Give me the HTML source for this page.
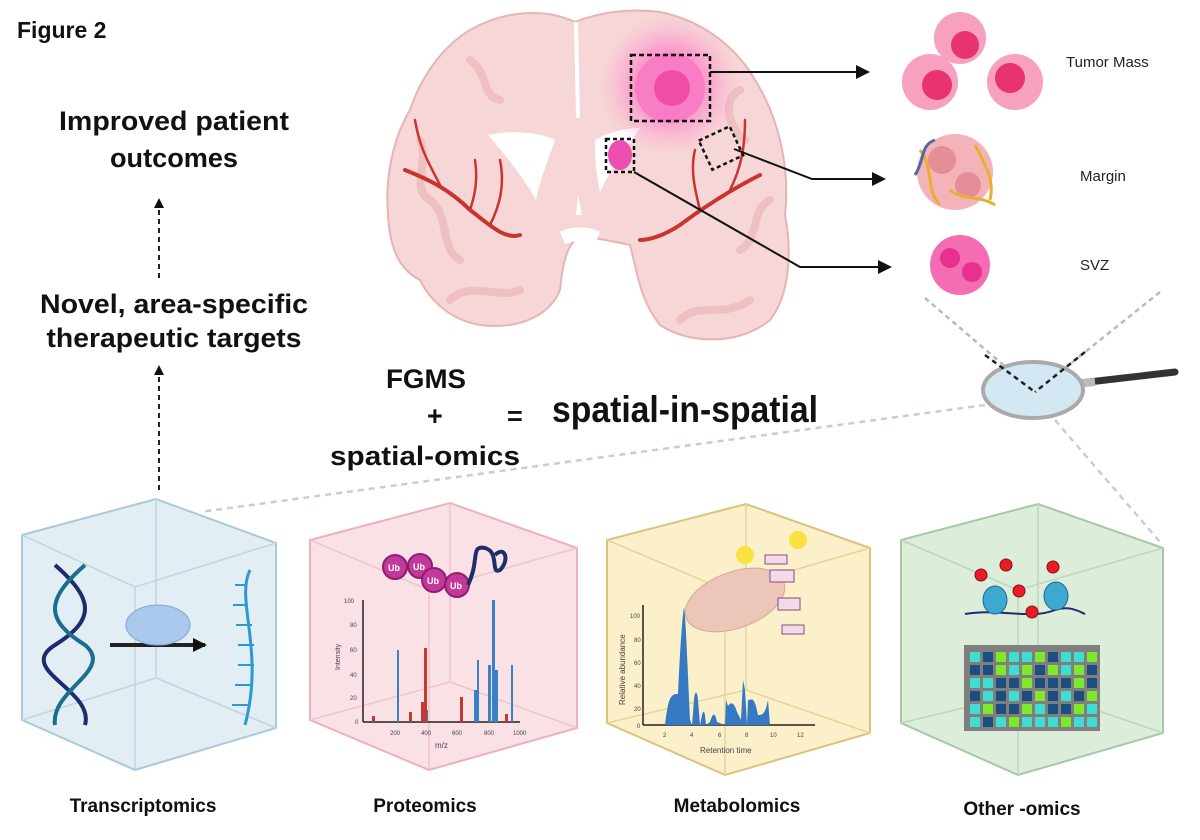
<!DOCTYPE html>
<html><head><meta charset="utf-8"><style>
html,body{margin:0;padding:0;background:#fff;}
svg{display:block;font-family:"Liberation Sans",sans-serif;}
.b{font-weight:bold;fill:#111;}
</style></head><body>
<svg width="1200" height="840" viewBox="0 0 1200 840" xmlns="http://www.w3.org/2000/svg">
<defs>
<radialGradient id="glow" cx="0.5" cy="0.5" r="0.5">
<stop offset="0" stop-color="#ff3fb0" stop-opacity="0.9"/>
<stop offset="0.55" stop-color="#ff6ec4" stop-opacity="0.5"/>
<stop offset="1" stop-color="#ff9ad6" stop-opacity="0"/>
</radialGradient>
<marker id="ah" markerWidth="10" markerHeight="10" refX="8" refY="5" orient="auto" markerUnits="userSpaceOnUse"><path d="M0,0 L10,5 L0,10 z" fill="#111"/></marker>
<marker id="ah2" markerWidth="14" markerHeight="14" refX="12" refY="7" orient="auto" markerUnits="userSpaceOnUse"><path d="M0,0 L14,7 L0,14 z" fill="#111"/></marker>
</defs>

<text x="17" y="38" class="b" font-size="23">Figure 2</text>
<text x="174" y="130" class="b" font-size="27" text-anchor="middle" textLength="230" lengthAdjust="spacingAndGlyphs">Improved patient</text>
<text x="174" y="167" class="b" font-size="27" text-anchor="middle" textLength="128" lengthAdjust="spacingAndGlyphs">outcomes</text>
<text x="174" y="313" class="b" font-size="27" text-anchor="middle" textLength="268" lengthAdjust="spacingAndGlyphs">Novel, area-specific</text>
<text x="174" y="347" class="b" font-size="27" text-anchor="middle" textLength="255" lengthAdjust="spacingAndGlyphs">therapeutic targets</text>
<line x1="159" y1="278" x2="159" y2="200" stroke="#222" stroke-width="2" stroke-dasharray="5,4" marker-end="url(#ah)"/>
<line x1="159" y1="490" x2="159" y2="367" stroke="#222" stroke-width="2" stroke-dasharray="5,4" marker-end="url(#ah)"/>

<text x="386" y="388" class="b" font-size="27" textLength="80" lengthAdjust="spacingAndGlyphs">FGMS</text>
<text x="427" y="425" class="b" font-size="27">+</text>
<text x="507" y="425" class="b" font-size="27">=</text>
<text x="552" y="422" class="b" font-size="37" textLength="266" lengthAdjust="spacingAndGlyphs">spatial-in-spatial</text>
<text x="330" y="465" class="b" font-size="27" textLength="190" lengthAdjust="spacingAndGlyphs">spatial-omics</text>

<line x1="985" y1="405" x2="200" y2="512" stroke="#c6ccd8" stroke-width="2.5" stroke-dasharray="6,5"/>
<line x1="1055" y1="420" x2="1160" y2="542" stroke="#c6ccd8" stroke-width="2.5" stroke-dasharray="6,5"/>

<g>
<path d="M575,22 C545,8 505,10 470,30 C440,48 420,80 410,110 C392,140 385,180 388,215 C390,250 400,270 420,280 C430,300 450,320 480,325 C520,330 550,315 560,290 C562,270 565,250 575,240 C590,235 605,240 630,245 C638,275 640,300 660,325 C690,345 740,345 770,320 C790,295 792,250 785,215 C790,170 780,120 755,80 C735,45 700,20 660,12 C630,8 600,12 575,22 Z" fill="#f6d6d6" stroke="#e6b4b6" stroke-width="2"/>
<path d="M420,140 C430,160 410,190 430,200 C450,215 440,250 460,260 M470,60 C490,75 480,95 500,100 M740,90 C720,100 730,130 745,140 M770,200 C750,210 760,240 740,250 M450,300 C470,280 500,300 520,290 M680,320 C700,300 720,320 750,300" fill="none" stroke="#eec0c2" stroke-width="8" stroke-linecap="round"/>
<path d="M576,22 L578,118" stroke="#fff" stroke-width="4"/>
<path d="M488,135 C510,130 540,132 555,140 C548,160 540,180 536,200 C528,185 510,160 488,135 Z" fill="#fff"/>
<path d="M595,140 C610,132 625,128 640,128 C625,150 610,170 600,192 C596,175 595,160 595,140 Z" fill="#fff"/>
<path d="M578,195 L582,215 L576,215 Z" fill="#fff"/>
<path d="M560,232 C570,226 590,226 600,232 L595,244 C585,240 575,240 565,244 Z" fill="#fff"/>
<g fill="none" stroke="#c9342f" stroke-linecap="round">
<path d="M405,170 C430,180 450,190 470,210 C490,225 505,240 520,235" stroke-width="4"/>
<path d="M470,210 C475,195 478,180 475,160 M440,185 C430,165 420,150 415,120 M490,225 C500,205 505,185 500,160 M700,210 C695,190 690,170 695,150 M730,190 C740,170 745,150 745,120" stroke-width="2.5"/>
<path d="M760,175 C730,190 700,210 680,225 C665,235 650,240 640,240" stroke-width="4"/>
</g>
<circle cx="670" cy="85" r="70" fill="url(#glow)"/>
<circle cx="670" cy="88" r="35" fill="#f87dc5"/>
<circle cx="672" cy="88" r="18" fill="#ef4fa6"/>
<rect x="631" y="55" width="79" height="66" fill="none" stroke="#111" stroke-width="2.5" stroke-dasharray="5,3"/>
<ellipse cx="620" cy="155" rx="12" ry="15" fill="#ec4fb0"/>
<rect x="606" y="139" width="28" height="33" fill="none" stroke="#111" stroke-width="2.5" stroke-dasharray="4,3"/>
<rect x="704" y="132" width="34" height="32" fill="none" stroke="#111" stroke-width="2.5" stroke-dasharray="4,3" transform="rotate(-25 721 148)"/>
</g>
<path d="M710,72 L868,72" stroke="#111" stroke-width="2" fill="none" marker-end="url(#ah2)"/>
<path d="M734,149 L812,179 L884,179" stroke="#111" stroke-width="2" fill="none" marker-end="url(#ah2)"/>
<path d="M634,172 L800,267 L890,267" stroke="#111" stroke-width="2" fill="none" marker-end="url(#ah2)"/>

<g>
<circle cx="960" cy="38" r="26" fill="#f7a0c0"/><circle cx="965" cy="45" r="14" fill="#e8336f"/>
<circle cx="930" cy="82" r="28" fill="#f7a0c0"/><circle cx="937" cy="85" r="15" fill="#e8336f"/>
<circle cx="1015" cy="82" r="28" fill="#f7a0c0"/><circle cx="1010" cy="78" r="15" fill="#e8336f"/>
<circle cx="955" cy="172" r="38" fill="#f4b3b8"/>
<circle cx="942" cy="160" r="14" fill="#e48f98"/><circle cx="968" cy="185" r="13" fill="#e48f98"/>
<path d="M920,150 C935,170 925,190 940,205 M975,145 C985,165 995,180 990,200 M950,190 C960,200 980,195 995,205" stroke="#e8b030" stroke-width="3" fill="none"/>
<path d="M915,175 C925,160 920,145 935,140" stroke="#5566aa" stroke-width="3" fill="none"/>
<circle cx="960" cy="265" r="30" fill="#f46cb2"/>
<circle cx="950" cy="258" r="10" fill="#e8308e"/><circle cx="972" cy="272" r="10" fill="#e8308e"/>
</g>
<text x="1066" y="67" font-size="15" fill="#222">Tumor Mass</text>
<text x="1080" y="181" font-size="15" fill="#222">Margin</text>
<text x="1080" y="270" font-size="15" fill="#222">SVZ</text>

<line x1="925" y1="298" x2="1035" y2="392" stroke="#bbb" stroke-width="2.5" stroke-dasharray="5,4"/>
<line x1="1160" y1="292" x2="1035" y2="392" stroke="#bbb" stroke-width="2.5" stroke-dasharray="5,4"/>
<line x1="1080" y1="383" x2="1175" y2="372" stroke="#333" stroke-width="7" stroke-linecap="round"/>
<line x1="1075" y1="384" x2="1095" y2="382" stroke="#bbb" stroke-width="8"/>
<ellipse cx="1033" cy="390" rx="50" ry="28" fill="#d4e8f4" stroke="#aaa" stroke-width="4"/>
<line x1="985" y1="355" x2="1035" y2="392" stroke="#222" stroke-width="2.5" stroke-dasharray="5,4"/>
<line x1="1085" y1="352" x2="1035" y2="392" stroke="#222" stroke-width="2.5" stroke-dasharray="5,4"/>

<g stroke-width="2">
<path d="M22,535 L156,499 L276,543 L276,728 L135,770 L22,720 Z" fill="#e2edf4" stroke="#a9cad9"/>
<path d="M22,535 L135,587 L276,543 M135,587 L135,770 M156,499 L156,678 L22,720 M156,678 L276,728" fill="none" stroke="#bcd7e3" stroke-width="1.5"/>
<path d="M310,540 L450,503 L577,548 L577,728 L429,770 L310,720 Z" fill="#fae1e6" stroke="#eeb0bc"/>
<path d="M310,540 L429,590 L577,548 M429,590 L429,770 M450,503 L450,682 L310,720 M450,682 L577,728" fill="none" stroke="#f1c3cc" stroke-width="1.5"/>
<path d="M607,540 L746,504 L870,548 L870,733 L725,775 L607,723 Z" fill="#fbf0c9" stroke="#dcc27a"/>
<path d="M607,540 L725,590 L870,548 M725,590 L725,775 M746,504 L746,690 L607,723 M746,690 L870,733" fill="none" stroke="#e6d49a" stroke-width="1.5"/>
<path d="M901,540 L1038,504 L1163,548 L1163,733 L1018,775 L901,723 Z" fill="#dcedda" stroke="#a6c7a8"/>
<path d="M901,540 L1018,590 L1163,548 M1018,590 L1018,775 M1038,504 L1038,690 L901,723 M1038,690 L1163,733" fill="none" stroke="#bcd7bc" stroke-width="1.5"/>
</g>

<g fill="none" stroke-width="4">
<path d="M55,565 C95,600 95,620 55,645 C15,670 95,690 85,725" stroke="#1d2a6e"/>
<path d="M85,565 C45,600 45,620 85,645 C115,670 50,690 55,725" stroke="#1a6f8e"/>
</g>
<line x1="110" y1="645" x2="205" y2="645" stroke="#222" stroke-width="4" marker-end="url(#ah2)"/>
<ellipse cx="158" cy="625" rx="32" ry="20" fill="#a9c8ec" stroke="#7fa8d6"/>
<path d="M250,570 C235,600 265,650 245,725" fill="none" stroke="#2a9ad2" stroke-width="3"/>
<g stroke="#2a9ad2" stroke-width="2">
<line x1="235" y1="585" x2="246" y2="585"/><line x1="233" y1="605" x2="247" y2="605"/><line x1="236" y1="625" x2="252" y2="625"/><line x1="238" y1="645" x2="254" y2="645"/><line x1="238" y1="665" x2="254" y2="665"/><line x1="235" y1="685" x2="251" y2="685"/><line x1="232" y1="705" x2="248" y2="705"/>
</g>

<g fill="#c2399a" stroke="#8e1f72" stroke-width="2">
<circle cx="395" cy="567" r="12"/><circle cx="420" cy="566" r="12"/><circle cx="434" cy="580" r="12"/><circle cx="457" cy="585" r="12"/>
</g>
<g fill="#fff" font-size="9" font-weight="bold"><text x="388" y="571">Ub</text><text x="413" y="570">Ub</text><text x="427" y="584">Ub</text><text x="450" y="589">Ub</text></g>
<path d="M468,585 C480,560 470,545 485,548 C500,552 490,575 500,570 C510,560 505,545 495,555" fill="none" stroke="#1d2e6b" stroke-width="4"/>
<g stroke="#222" stroke-width="1.5"><line x1="363" y1="600" x2="363" y2="722"/><line x1="363" y1="722" x2="520" y2="722"/></g>
<g font-size="6" fill="#444"><text x="344" y="603">100</text><text x="350" y="627">80</text><text x="350" y="652">60</text><text x="350" y="677">40</text><text x="350" y="700">20</text><text x="355" y="724">0</text>
<text x="390" y="735">200</text><text x="421" y="735">400</text><text x="452" y="735">600</text><text x="484" y="735">800</text><text x="513" y="735">1000</text><text x="435" y="748" font-size="8">m/z</text>
<text x="340" y="670" font-size="7" transform="rotate(-90 340 670)">Intensity</text></g>
<g fill="#3b7fc4"><rect x="397" y="650" width="2" height="72"/><rect x="492" y="600" width="3" height="122"/><rect x="488" y="665" width="3" height="57"/><rect x="495" y="670" width="3" height="52"/><rect x="477" y="660" width="2" height="62"/><rect x="474" y="690" width="3" height="32"/><rect x="511" y="665" width="2" height="57"/><rect x="425" y="710" width="3" height="12"/></g>
<g fill="#c23a30"><rect x="424" y="648" width="3" height="74"/><rect x="421" y="702" width="3" height="20"/><rect x="460" y="697" width="3" height="25"/><rect x="409" y="712" width="3" height="10"/><rect x="372" y="716" width="3" height="6"/><rect x="505" y="714" width="3" height="8"/></g>

<ellipse cx="735" cy="600" rx="52" ry="28" fill="#ecc6b8" stroke="#d6a596" transform="rotate(-20 735 600)"/>
<circle cx="745" cy="555" r="9" fill="#f8e240"/><circle cx="798" cy="540" r="9" fill="#f8e240"/>
<g fill="#f1dbe6" stroke="#8a4a86"><rect x="765" y="555" width="22" height="9"/><rect x="770" y="570" width="24" height="12"/><rect x="778" y="598" width="22" height="12"/><rect x="782" y="625" width="22" height="9"/></g>
<g stroke="#222" stroke-width="1.5"><line x1="643" y1="605" x2="643" y2="725"/><line x1="643" y1="725" x2="815" y2="725"/></g>
<path d="M665,725 C668,700 670,695 676,694 L678,694 C680,650 682,620 684,607 C686,620 688,680 690,720 L692,725 L694,700 C695,690 697,690 698,700 L700,725 L702,715 C704,708 705,712 706,725 L710,722 C713,712 715,712 717,722 L725,725 L726,700 L728,706 C732,700 735,705 737,712 L741,720 L743,680 L745,690 L747,725 L748,700 C752,700 754,695 758,715 C762,715 765,715 768,700 L770,725 L815,725 Z" fill="#3479c2"/>
<g font-size="6" fill="#444"><text x="630" y="618">100</text><text x="634" y="642">80</text><text x="634" y="665">60</text><text x="634" y="688">40</text><text x="634" y="711">20</text><text x="637" y="728">0</text>
<text x="663" y="737">2</text><text x="690" y="737">4</text><text x="718" y="737">6</text><text x="745" y="737">8</text><text x="770" y="737">10</text><text x="797" y="737">12</text>
<text x="700" y="753" font-size="8">Retention time</text><text x="625" y="705" font-size="8" transform="rotate(-90 625 705)">Relative abundance</text></g>

<path d="M965,614 C1000,608 1030,620 1055,610 C1070,605 1080,612 1085,614" fill="none" stroke="#1d2e6b" stroke-width="2"/>
<ellipse cx="995" cy="600" rx="12" ry="14" fill="#3ea8d1" stroke="#1d6c96"/>
<ellipse cx="1056" cy="596" rx="12" ry="14" fill="#3ea8d1" stroke="#1d6c96"/>
<g fill="#e91b24" stroke="#8a1014"><circle cx="981" cy="575" r="6"/><circle cx="1006" cy="565" r="6"/><circle cx="1053" cy="567" r="6"/><circle cx="1019" cy="591" r="6"/><circle cx="1032" cy="612" r="6"/></g>
<rect x="964" y="645" width="136" height="86" fill="#7f7f7f"/>
<g>
<rect x="970" y="652" width="10" height="10" fill="#3fdcd2"/><rect x="983" y="652" width="10" height="10" fill="#1c4e80"/><rect x="996" y="652" width="10" height="10" fill="#7ee82a"/><rect x="1009" y="652" width="10" height="10" fill="#3fdcd2"/><rect x="1022" y="652" width="10" height="10" fill="#3fdcd2"/><rect x="1035" y="652" width="10" height="10" fill="#7ee82a"/><rect x="1048" y="652" width="10" height="10" fill="#1c4e80"/><rect x="1061" y="652" width="10" height="10" fill="#3fdcd2"/><rect x="1074" y="652" width="10" height="10" fill="#3fdcd2"/><rect x="1087" y="652" width="10" height="10" fill="#7ee82a"/>
<rect x="970" y="665" width="10" height="10" fill="#1c4e80"/><rect x="983" y="665" width="10" height="10" fill="#1c4e80"/><rect x="996" y="665" width="10" height="10" fill="#7ee82a"/><rect x="1009" y="665" width="10" height="10" fill="#3fdcd2"/><rect x="1022" y="665" width="10" height="10" fill="#7ee82a"/><rect x="1035" y="665" width="10" height="10" fill="#1c4e80"/><rect x="1048" y="665" width="10" height="10" fill="#7ee82a"/><rect x="1061" y="665" width="10" height="10" fill="#3fdcd2"/><rect x="1074" y="665" width="10" height="10" fill="#7ee82a"/><rect x="1087" y="665" width="10" height="10" fill="#1c4e80"/>
<rect x="970" y="678" width="10" height="10" fill="#3fdcd2"/><rect x="983" y="678" width="10" height="10" fill="#3fdcd2"/><rect x="996" y="678" width="10" height="10" fill="#1c4e80"/><rect x="1009" y="678" width="10" height="10" fill="#1c4e80"/><rect x="1022" y="678" width="10" height="10" fill="#7ee82a"/><rect x="1035" y="678" width="10" height="10" fill="#1c4e80"/><rect x="1048" y="678" width="10" height="10" fill="#1c4e80"/><rect x="1061" y="678" width="10" height="10" fill="#1c4e80"/><rect x="1074" y="678" width="10" height="10" fill="#7ee82a"/><rect x="1087" y="678" width="10" height="10" fill="#1c4e80"/>
<rect x="970" y="691" width="10" height="10" fill="#1c4e80"/><rect x="983" y="691" width="10" height="10" fill="#3fdcd2"/><rect x="996" y="691" width="10" height="10" fill="#1c4e80"/><rect x="1009" y="691" width="10" height="10" fill="#3fdcd2"/><rect x="1022" y="691" width="10" height="10" fill="#1c4e80"/><rect x="1035" y="691" width="10" height="10" fill="#7ee82a"/><rect x="1048" y="691" width="10" height="10" fill="#1c4e80"/><rect x="1061" y="691" width="10" height="10" fill="#3fdcd2"/><rect x="1074" y="691" width="10" height="10" fill="#1c4e80"/><rect x="1087" y="691" width="10" height="10" fill="#7ee82a"/>
<rect x="970" y="704" width="10" height="10" fill="#3fdcd2"/><rect x="983" y="704" width="10" height="10" fill="#7ee82a"/><rect x="996" y="704" width="10" height="10" fill="#1c4e80"/><rect x="1009" y="704" width="10" height="10" fill="#1c4e80"/><rect x="1022" y="704" width="10" height="10" fill="#7ee82a"/><rect x="1035" y="704" width="10" height="10" fill="#3fdcd2"/><rect x="1048" y="704" width="10" height="10" fill="#1c4e80"/><rect x="1061" y="704" width="10" height="10" fill="#1c4e80"/><rect x="1074" y="704" width="10" height="10" fill="#7ee82a"/><rect x="1087" y="704" width="10" height="10" fill="#3fdcd2"/>
<rect x="970" y="717" width="10" height="10" fill="#3fdcd2"/><rect x="983" y="717" width="10" height="10" fill="#1c4e80"/><rect x="996" y="717" width="10" height="10" fill="#3fdcd2"/><rect x="1009" y="717" width="10" height="10" fill="#7ee82a"/><rect x="1022" y="717" width="10" height="10" fill="#3fdcd2"/><rect x="1035" y="717" width="10" height="10" fill="#3fdcd2"/><rect x="1048" y="717" width="10" height="10" fill="#3fdcd2"/><rect x="1061" y="717" width="10" height="10" fill="#7ee82a"/><rect x="1074" y="717" width="10" height="10" fill="#3fdcd2"/><rect x="1087" y="717" width="10" height="10" fill="#3fdcd2"/>
</g>

<text x="143" y="812" class="b" font-size="19" text-anchor="middle">Transcriptomics</text>
<text x="425" y="812" class="b" font-size="19" text-anchor="middle">Proteomics</text>
<text x="737" y="812" class="b" font-size="19" text-anchor="middle">Metabolomics</text>
<text x="1022" y="815" class="b" font-size="19" text-anchor="middle">Other -omics</text>
</svg>
</body></html>
